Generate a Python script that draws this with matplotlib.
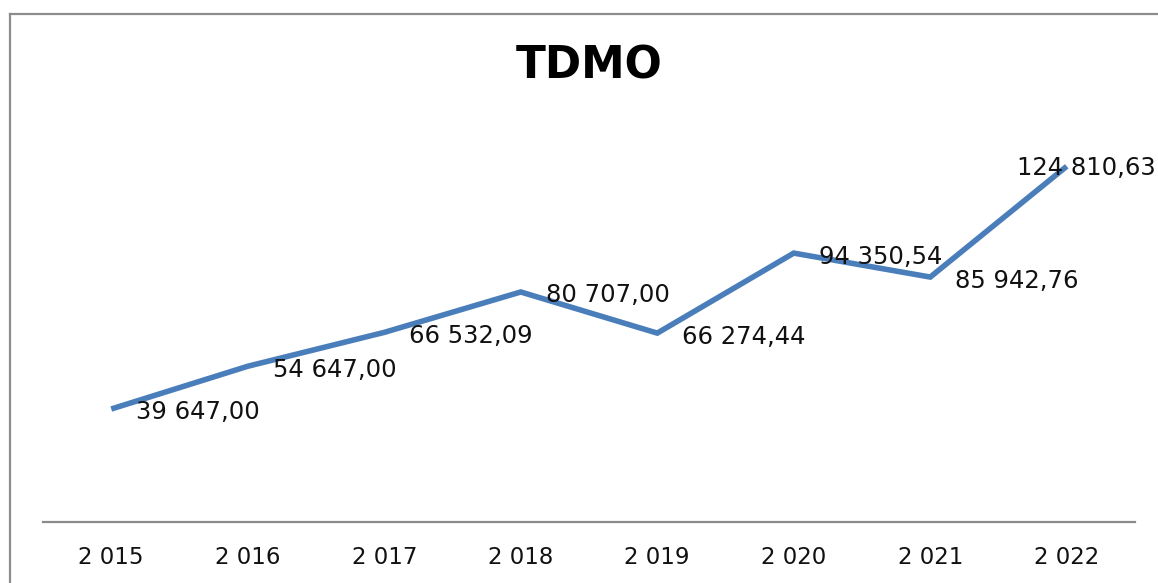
import matplotlib
matplotlib.use("Agg")
import matplotlib.pyplot as plt
from matplotlib.lines import Line2D

years = ["2 015", "2 016", "2 017", "2 018", "2 019", "2 020", "2 021", "2 022"]
values = [39647.00, 54647.00, 66532.09, 80707.00, 66274.44, 94350.54, 85942.76, 124810.63]
labels = ["39 647,00", "54 647,00", "66 532,09", "80 707,00", "66 274,44", "94 350,54", "85 942,76", "124 810,63"]
title = "TDMO"

W, H = 1158, 583
fig = plt.figure(figsize=(W / 100, H / 100), dpi=100)
ax = fig.add_axes([43 / W, (H - 522) / H, (1135 - 43) / W, (522 - 123) / H])

x = list(range(len(years)))
ax.plot(x, values, color="#4A7EBB", linewidth=4.0, solid_joinstyle="miter", solid_capstyle="butt")
ax.set_xlim(-0.5, len(years) - 0.5)
ax.set_ylim(0, 140000)

for i, (v, lab) in enumerate(zip(values, labels)):
    if i == len(values) - 1:
        off = (-36, -1.5)
    else:
        off = (18, -2.5)
    ax.annotate(lab, (i, v), xytext=off, textcoords="offset points",
                ha="left", va="center", fontsize=17.5, color="#111111",
                family="DejaVu Sans", annotation_clip=False)

ax.set_xticks(x)
ax.set_xticklabels(years, fontsize=16.5, color="#111111", family="DejaVu Sans")
ax.tick_params(axis="x", length=0, pad=17)
ax.set_yticks([])
for s in ["top", "right", "left"]:
    ax.spines[s].set_visible(False)
ax.spines["bottom"].set_color("#8a8a8a")
ax.spines["bottom"].set_linewidth(1.6)

fig.text((43 + 1135) / 2 / W, 1 - 66 / H, title, ha="center", va="center",
         fontsize=31.5, fontweight="bold", color="#000000", family="DejaVu Sans")

# chart area border
bx, by = 9.5 / W, 1 - 14 / H
fig.add_artist(Line2D([bx, bx], [0, by], transform=fig.transFigure, color="#8c8c8c", linewidth=1.6))
fig.add_artist(Line2D([bx, 1.01], [by, by], transform=fig.transFigure, color="#8c8c8c", linewidth=1.6))

fig.savefig("out.png", dpi=100)
